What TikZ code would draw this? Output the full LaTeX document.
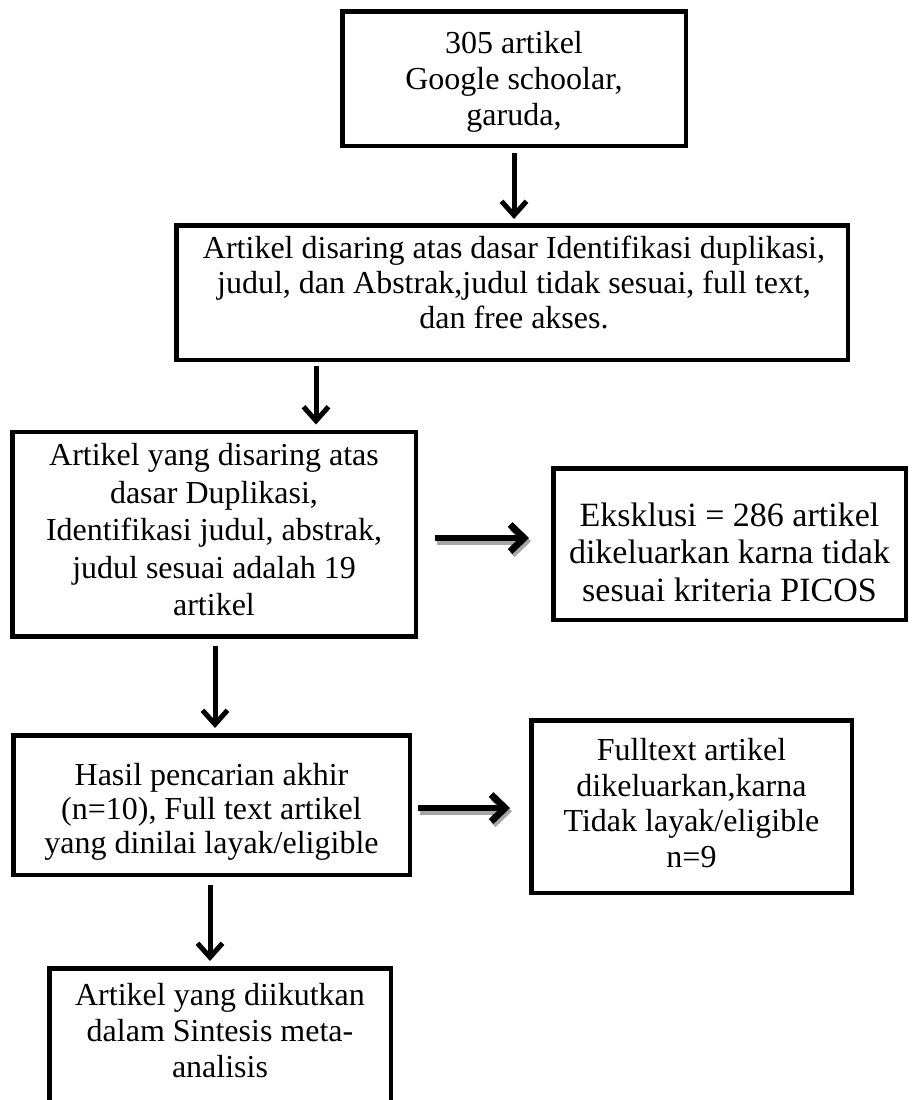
\documentclass[tikz,border=0pt]{standalone}
\usepackage{fontspec}
\setmainfont{Liberation Serif}
\usetikzlibrary{arrows.meta}
\begin{document}
\begin{tikzpicture}[x=0.5pt,y=-0.5pt,
  box/.style={draw=black, line width=2.25pt, fill=white, inner sep=0pt},
  txt/.style={align=center, inner sep=0pt, anchor=north},
  varrow/.style={line width=2.5pt, -{Straight Barb[length=7pt,width=12.5pt]}},
  harrow/.style={line width=3.4pt, -{Straight Barb[length=7pt,width=13.5pt]}},
  hshadow/.style={harrow, draw=black!35},
]
\useasboundingbox (0,0) rectangle (912,1100);
\clip (0,0) rectangle (912,1100);

% boxes
\node[box, minimum width=171.75pt, minimum height=67.25pt] (b1) at (514,78.5) {};
\node[box, minimum width=335.75pt, minimum height=67.25pt] (b2) at (512,292.5) {};
\node[box, minimum width=201.75pt, minimum height=102.25pt] (b3) at (214,534) {};
\node[box, minimum width=176.25pt, minimum height=75.75pt] (b4) at (729.5,544) {};
\node[box, minimum width=198.25pt, minimum height=69.75pt] (b5) at (211.5,805) {};
\node[box, minimum width=160.25pt, minimum height=86.25pt] (b6) at (691.5,806.5) {};
\node[box, minimum width=170.75pt, minimum height=74.75pt] (b7) at (220,1043) {};

% texts
\node[txt, font=\fontsize{16}{18}\selectfont] (t1) at (514,31)
  {305 artikel\\Google schoolar,\\garuda,};
\node[txt, font=\fontsize{16}{17.5}\selectfont] (t2) at (514,236)
  {Artikel disaring atas dasar Identifikasi duplikasi,\\judul, dan Abstrak,judul tidak sesuai, full text,\\dan free akses.};
\node[txt, font=\fontsize{16}{18.75}\selectfont] (t3) at (214,443)
  {Artikel yang disaring atas\\dasar Duplikasi,\\Identifikasi judul, abstrak,\\judul sesuai adalah 19\\artikel};
\node[txt, font=\fontsize{17}{18.75}\selectfont] (t4) at (729.5,502)
  {Eksklusi = 286 artikel\\dikeluarkan karna tidak\\sesuai kriteria PICOS};
\node[txt, font=\fontsize{16}{17}\selectfont] (t5) at (211.5,763)
  {Hasil pencarian akhir\\(n=10), Full text artikel\\yang dinilai layak/eligible};
\node[txt, font=\fontsize{16}{17.75}\selectfont] (t6) at (691.5,738)
  {Fulltext artikel\\dikeluarkan,karna\\Tidak layak/eligible\\n=9};
\node[txt, font=\fontsize{16}{18}\selectfont] (t7) at (220,983)
  {Artikel yang diikutkan\\dalam Sintesis meta-\\analisis};

% connector positions
\coordinate (x2) at (316,0);
\coordinate (x4) at (215,0);
\coordinate (x6) at (210,0);
\coordinate (y3) at (0,538);
\coordinate (y5) at (0,808);

% vertical arrows
\draw[varrow, shorten <=2.5pt, shorten >=2pt] (b1.south) -- (b1.south |- b2.north);
\draw[varrow, shorten <=2pt, shorten >=2.5pt] (b2.south -| x2) -- (b3.north -| x2);
\draw[varrow, shorten <=3.5pt, shorten >=2.5pt] (b3.south -| x4) -- (b5.north -| x4);
\draw[varrow, shorten <=4pt, shorten >=2.5pt] (b5.south -| x6) -- (b7.north -| x6);

% horizontal arrows with shadow
\draw[hshadow, shorten <=8.5pt, shorten >=11pt, transform canvas={xshift=1pt,yshift=-1.6pt}]
  (b3.east |- y3) -- (b4.west |- y3);
\draw[harrow, shorten <=8.5pt, shorten >=11pt] (b3.east |- y3) -- (b4.west |- y3);
\draw[hshadow, shorten <=3pt, shorten >=9.5pt, transform canvas={xshift=1pt,yshift=-1.6pt}]
  (b5.east |- y5) -- (b6.west |- y5);
\draw[harrow, shorten <=3pt, shorten >=9.5pt] (b5.east |- y5) -- (b6.west |- y5);
\end{tikzpicture}
\end{document}
